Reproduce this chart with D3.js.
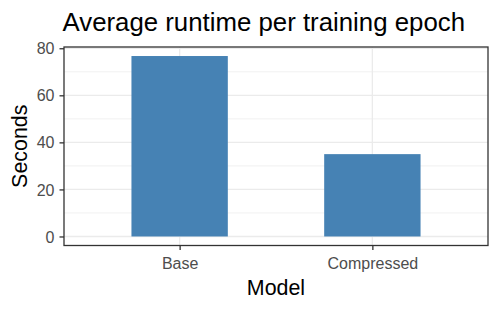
<!DOCTYPE html>
<html>
<head>
<meta charset="utf-8">
<script src="https://cdn.jsdelivr.net/npm/d3@7"></script>
<style>
  body { margin: 0; background: #fff; }
  text { font-family: "Liberation Sans", Arial, sans-serif; }
</style>
</head>
<body>
<div id="chart"></div>
<script>
// data
var models = ["Base", "Compressed"];
var seconds = [76.7, 35.0];
var yTicks = [0, 20, 40, 60, 80];
var yMinor = [10, 30, 50, 70];

var W = 500, H = 309;
var margin = {top: 47, right: 12, bottom: 63.5, left: 64};
var width = W - margin.left - margin.right;
var height = H - margin.top - margin.bottom;

var svg = d3.select("#chart").append("svg")
    .attr("width", W)
    .attr("height", H);

var g = svg.append("g")
    .attr("transform", "translate(" + margin.left + "," + margin.top + ")");

// ggplot-like discrete scale: positions 1..n, expanded by 0.6
var x_pos = d3.scaleLinear()
    .domain([0.4, models.length + 0.6])
    .range([0, width]);

var ymax = d3.max(seconds);
var y_scale = d3.scaleLinear()
    .domain([-0.05 * ymax, ymax * 1.05])
    .range([height, 0]);

// grid
g.selectAll(".minor").data(yMinor).enter().append("line")
    .attr("x1", 0).attr("x2", width)
    .attr("y1", function(d) { return y_scale(d); })
    .attr("y2", function(d) { return y_scale(d); })
    .attr("stroke", "#ebebeb").attr("stroke-width", 0.7);
g.selectAll(".major").data(yTicks).enter().append("line")
    .attr("x1", 0).attr("x2", width)
    .attr("y1", function(d) { return y_scale(d); })
    .attr("y2", function(d) { return y_scale(d); })
    .attr("stroke", "#ebebeb").attr("stroke-width", 1.3);
g.selectAll(".vmajor").data(models).enter().append("line")
    .attr("y1", 0).attr("y2", height)
    .attr("x1", function(d, i) { return x_pos(i + 1); })
    .attr("x2", function(d, i) { return x_pos(i + 1); })
    .attr("stroke", "#ebebeb").attr("stroke-width", 1.3);

// bars
var barW = x_pos(1.25) - x_pos(0.75);
g.selectAll(".bar").data(seconds).enter().append("rect")
    .attr("x", function(d, i) { return x_pos(i + 1) - barW / 2; })
    .attr("width", barW)
    .attr("y", function(d) { return y_scale(d); })
    .attr("height", function(d) { return y_scale(0) - y_scale(d); })
    .attr("fill", "steelblue");

// panel border
g.append("rect")
    .attr("width", width).attr("height", height)
    .attr("fill", "none").attr("stroke", "#333333").attr("stroke-width", 1.3);

// axes
var yAxis = g.append("g")
    .call(d3.axisLeft(y_scale).tickValues(yTicks).tickSize(4.5).tickPadding(5));
var xAxis = g.append("g")
    .attr("transform", "translate(0," + height + ")")
    .call(d3.axisBottom(x_pos).tickValues([1, 2]).tickSize(4.5).tickPadding(5)
        .tickFormat(function(d) { return models[d - 1]; }));

[yAxis, xAxis].forEach(function(a) {
    a.select(".domain").remove();
    a.selectAll(".tick line").attr("stroke", "#333333").attr("stroke-width", 1.3);
    a.selectAll(".tick text")
        .attr("fill", "#4d4d4d")
        .style("font-size", "16px")
        .style("font-family", "Liberation Sans, Arial, sans-serif");
});
yAxis.selectAll(".tick text").attr("dy", "0.35em");
xAxis.selectAll(".tick text").attr("y", null).attr("dy", null)
    .attr("transform", "translate(0,23)");

// titles
svg.append("text")
    .attr("x", margin.left - 1.5)
    .attr("y", 30.7)
    .style("font-size", "25.8px")
    .attr("fill", "#000")
    .text("Average runtime per training epoch");

svg.append("text")
    .attr("x", margin.left + width / 2)
    .attr("y", 295)
    .attr("text-anchor", "middle")
    .style("font-size", "21.4px")
    .text("Model");

svg.append("text")
    .attr("transform", "translate(27," + (margin.top + height / 2) + ")rotate(-90)")
    .attr("text-anchor", "middle")
    .style("font-size", "21.4px")
    .text("Seconds");
</script>
</body>
</html>
